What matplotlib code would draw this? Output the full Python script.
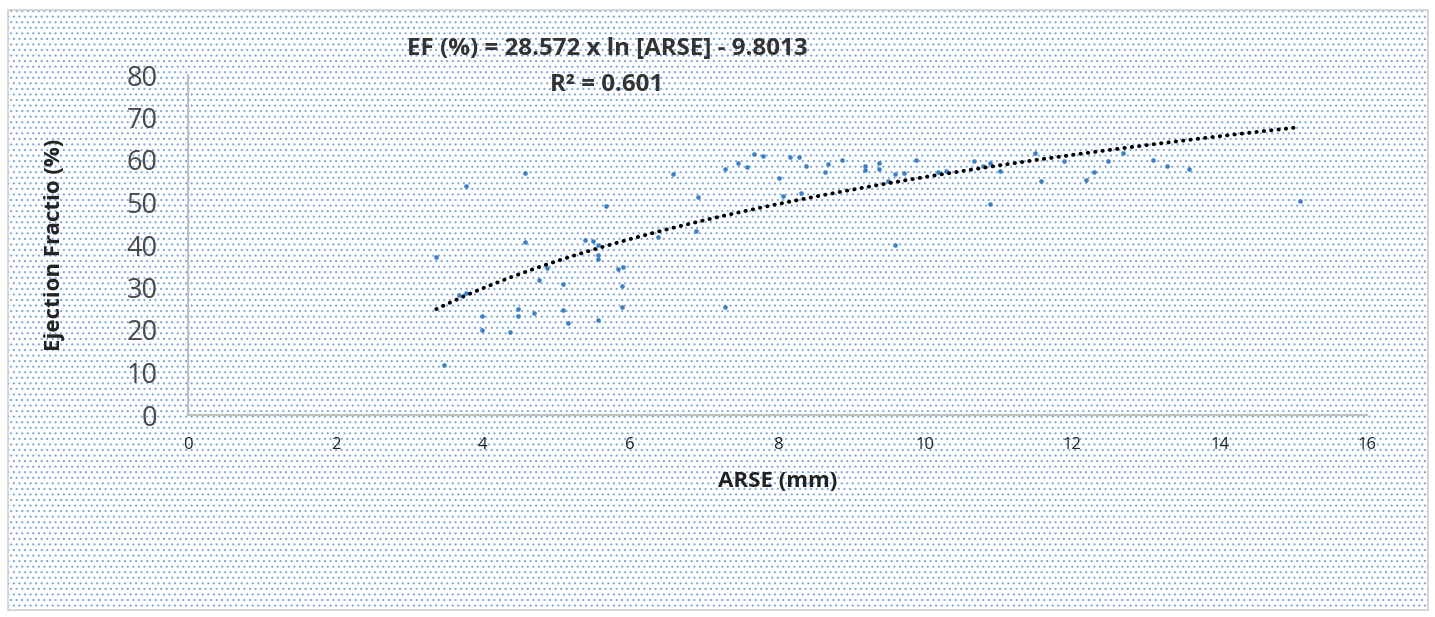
import numpy as np
import matplotlib
matplotlib.use("Agg")
import matplotlib.pyplot as plt
from matplotlib.patches import Rectangle

# ARSE (mm) vs ejection fraction (%)
arse = [3.37, 3.48, 3.68, 3.77, 3.77, 3.99, 3.99, 4.37, 4.48, 4.48,
        4.58, 4.58, 4.69, 4.77, 4.87, 5.09, 5.09, 5.16, 5.39, 5.49,
        5.56, 5.57, 5.57, 5.57, 5.67, 5.83, 5.89, 5.89, 5.90, 6.38,
        6.58, 6.89, 6.92, 7.29, 7.29, 7.47, 7.58, 7.68, 7.81, 8.02,
        8.08, 8.17, 8.29, 8.32, 8.38, 8.65, 8.69, 8.88, 9.19, 9.19,
        9.38, 9.38, 9.50, 9.59, 9.59, 9.71, 9.88, 10.18, 10.28, 10.67,
        10.79, 10.88, 10.88, 11.02, 11.49, 11.57, 11.89, 12.18, 12.29, 12.48,
        12.69, 13.09, 13.29, 13.58, 15.09]
ef = [37.1, 11.7, 28.3, 53.8, 28.6, 23.3, 19.9, 19.5, 24.9, 23.3,
      56.9, 40.6, 23.9, 31.8, 34.6, 30.9, 24.6, 21.7, 41.2, 40.9,
      22.4, 39.9, 37.7, 36.8, 49.1, 34.3, 30.3, 25.5, 34.8, 41.8,
      56.6, 43.4, 51.2, 57.9, 25.5, 59.4, 58.4, 61.3, 61.0, 55.7,
      51.6, 60.7, 60.7, 52.2, 58.7, 57.2, 59.1, 60.1, 58.5, 57.6,
      59.4, 57.9, 55.1, 40.0, 56.6, 56.9, 60.1, 57.1, 57.3, 59.8,
      58.5, 59.4, 49.7, 57.5, 61.6, 55.0, 59.8, 55.3, 57.2, 59.7,
      61.6, 60.1, 58.5, 57.9, 50.3]

# log trendline from the chart
FIT_A = 28.572
FIT_B = -9.8013
R2 = 0.601

x_ticks = [0, 2, 4, 6, 8, 10, 12, 14, 16]
y_ticks = [0, 10, 20, 30, 40, 50, 60, 70, 80]

plt.rcParams['font.family'] = ['Open Sans', 'DejaVu Sans']
plt.rcParams['hatch.linewidth'] = 0.8

W, H = 1435, 617
fig = plt.figure(figsize=(W/100, H/100), dpi=100, facecolor='white')

# dotted chart-area background + thin gray border (behind the axes)
bg = Rectangle((8/W, 7/H), 1420/W, 600/H, transform=fig.transFigure,
               facecolor='white', edgecolor='#7ea9dc', linewidth=0, hatch='...', zorder=-10)
fig.patches.append(bg)
border = Rectangle((8/W, 7/H), 1420/W, 600/H, transform=fig.transFigure,
                   facecolor='none', edgecolor='#d0d0d0', linewidth=1.2, zorder=-9)
fig.patches.append(border)

ax = fig.add_axes([188/W, 1 - 415/H, (1367 - 188)/W, (415 - 75)/H])
ax.set_facecolor('none')

ax.scatter(arse, ef, s=11, color='#3a7fc8', zorder=3, linewidths=0)

xf = np.linspace(min(arse), max(arse), 200)
ax.plot(xf, FIT_A*np.log(xf) + FIT_B, color='black', lw=2.8,
        linestyle=(0, (0.1, 1.8)), dash_capstyle='round', zorder=4)

ax.set_xlim(0, 16)
ax.set_ylim(0, 80)
ax.set_xticks(x_ticks)
ax.set_yticks(y_ticks)
ax.tick_params(axis='x', length=0, pad=16, labelsize=12, labelcolor='#222222')
ax.tick_params(axis='y', length=0, pad=22, labelsize=19.5, labelcolor='#4a4a4a')

for s in ['top', 'right']:
    ax.spines[s].set_visible(False)
for s in ['left', 'bottom']:
    ax.spines[s].set_color('#bfbfbf')
    ax.spines[s].set_linewidth(1.5)

ax.set_xlabel('ARSE (mm)', fontsize=16, fontweight='bold', color='#222222', labelpad=13)
ax.set_ylabel('Ejection Fractio (%)', fontsize=16, fontweight='bold', color='#222222', labelpad=44)

fig.text(607/W, 1 - 49/H, 'EF (%) = 28.572 x ln [ARSE] - 9.8013',
         ha='center', va='center', fontsize=17.4, fontweight='bold', color='#333333')
fig.text(607/W, 1 - 85/H, f'R² = {R2}',
         ha='center', va='center', fontsize=17.4, fontweight='bold', color='#333333')

fig.savefig('out.png', dpi=100, facecolor='white')
